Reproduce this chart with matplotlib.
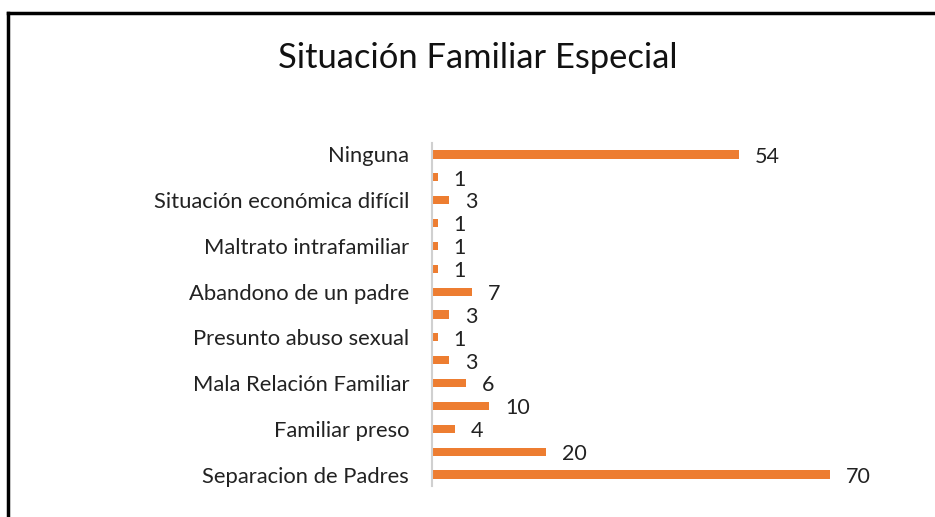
import matplotlib
matplotlib.use("Agg")
import matplotlib.pyplot as plt
from matplotlib.lines import Line2D

plt.rcParams['font.family'] = ['Lato', 'DejaVu Sans']

categories = ["Separacion de Padres", "", "Familiar preso", "", "Mala Relación Familiar", "",
              "Presunto abuso sexual", "", "Abandono de un padre", "", "Maltrato intrafamiliar", "",
              "Situación económica difícil", "", "Ninguna"]
values = [70, 20, 4, 10, 6, 3, 1, 3, 7, 1, 1, 1, 3, 1, 54]
title = "Situación Familiar Especial"

W, H = 935, 517
fig = plt.figure(figsize=(W / 100, H / 100), dpi=100)
ax = fig.add_axes([432 / W, 1 - 486 / H, (887 - 432) / W, (486 - 143) / H])

pos = list(range(len(values)))
color = "#ED7D31"
ax.barh(pos, values, height=0.36, color=color)
ax.set_xlim(0, 80)
ax.set_ylim(-0.5, len(values) - 0.5)
ax.set_yticks(pos)
ax.set_yticklabels(categories, fontsize=15.8, color="#222222")
ax.tick_params(axis='y', length=0, pad=16.5)
ax.set_xticks([])
for s in ["top", "right", "bottom"]:
    ax.spines[s].set_visible(False)
ax.spines["left"].set_color("#d0d0d0")
ax.spines["left"].set_linewidth(1.5)

for p, v in zip(pos, values):
    ax.text(v + 2.8, p - 0.1, str(v), va="center", ha="left", fontsize=15.5, color="#222222")

fig.text(478 / W, 1 - 58 / H, title, ha="center", va="center", fontsize=24.8, color="#111111")

# outer frame
fig.add_artist(Line2D([8 / W, 8 / W], [0, 1 - 13 / H], transform=fig.transFigure, color="black", lw=2.5))
fig.add_artist(Line2D([8 / W, 1], [1 - 13 / H, 1 - 13 / H], transform=fig.transFigure, color="black", lw=2.5))

fig.savefig("out.png", dpi=100)
